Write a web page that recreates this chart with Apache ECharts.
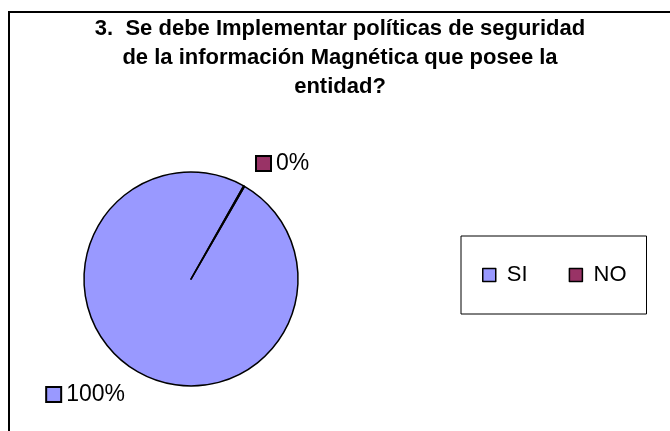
<!DOCTYPE html>
<html>
<head>
<meta charset="utf-8">
<script src="https://cdn.jsdelivr.net/npm/echarts@6/dist/echarts.min.js"></script>
<style>
html,body{margin:0;padding:0;background:#fff;}
#c{width:670px;height:431px;}
</style>
</head>
<body>
<div id="c"></div>
<script>
const titleText = '3.  Se debe Implementar políticas de seguridad\nde la información Magnética que posee la\nentidad?';
const categories = ['SI', 'NO'];
const values = [100, 0];
const colors = ['#9999FF', '#993366'];

const FONT = "'Liberation Sans', Arial, sans-serif";
const chart = echarts.init(document.getElementById('c'), null, {renderer: 'canvas'});

const rich = {t: {fontSize: 23, fontFamily: FONT, color: '#000', padding: [0, 0, 0, 6]}};
colors.forEach((c, i) => {
  rich['s' + i] = {width: 13, height: 13, backgroundColor: c, borderColor: '#000', borderWidth: 2};
});

chart.setOption({
  animation: false,
  color: colors,
  graphic: [{
    type: 'rect', silent: true,
    shape: {x: 9, y: 12, width: 720, height: 520},
    style: {fill: 'none', stroke: '#000', lineWidth: 2}
  }],
  title: {
    text: titleText,
    left: 340, top: 14, textAlign: 'center', padding: 0,
    textStyle: {fontFamily: FONT, fontSize: 22, fontWeight: 'bold', color: '#000', lineHeight: 29}
  },
  legend: {
    data: categories,
    left: 461, top: 236,
    orient: 'horizontal',
    padding: [28, 20, 28, 21],
    itemGap: 41,
    itemWidth: 13, itemHeight: 13,
    icon: 'rect',
    selectedMode: false,
    borderColor: '#000', borderWidth: 1,
    itemStyle: {borderColor: '#000', borderWidth: 1.5},
    formatter: n => ' ' + n,
    textStyle: {fontFamily: FONT, fontSize: 22, color: '#000'}
  },
  series: [{
    type: 'pie',
    center: [191, 279],
    radius: 107,
    startAngle: 60,
    clockwise: true,
    minAngle: 0.5,
    avoidLabelOverlap: false,
    emphasis: {disabled: true},
    itemStyle: {borderColor: '#000', borderWidth: 1.5},
    label: {
      show: true, position: 'outside',
      distanceToLabelLine: 0,
      formatter: p => '{s' + p.dataIndex + '|}{t|' + p.value + '%}',
      rich: rich
    },
    labelLine: {show: false, length: 26, length2: 0},
    data: categories.map((n, i) => ({name: n, value: values[i]}))
  }]
});
</script>
</body>
</html>
